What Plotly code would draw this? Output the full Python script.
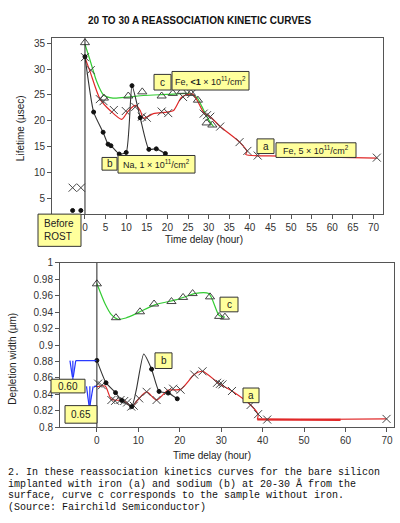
import plotly.graph_objects as go

# ---- top panel: lifetime (usec) vs time delay (hour) ----
# curve c (no iron), triangles + smoothed green fit
c_top_x = [0, 4.6, 10.5, 13.9, 18.6, 21.3, 23.5, 25.7, 27.4, 29.5, 30.9]
c_top_y = [35.1, 24.4, 24.8, 25.6, 24.8, 25.3, 25.7, 25.3, 24.0, 19.6, 19.2]
c_top_fit_x = [0, 1.2, 2.8, 4.5, 6.8, 10.5, 14.2, 19.9, 24.7, 26.0, 27.2, 28.4, 30.0, 31.2]
c_top_fit_y = [34.8, 31.8, 27.7, 25.0, 24.4, 24.6, 24.9, 25.1, 25.3, 25.1, 24.5, 22.7, 20.2, 18.9]

# curve a (Fe 5e11), crosses + red fit
a_top_x = [0, 1.4, 3.6, 4.5, 7.0, 9.9, 12.2, 13.8, 15.0, 18.6, 20.2, 23.8, 25.8,
           28.8, 29.6, 30.4, 32.8, 37.5, 39.4, 41.9, 70.8]
a_top_y = [32.3, 29.8, 24.2, 23.8, 22.1, 21.9, 22.7, 20.8, 20.6, 21.8, 21.5, 24.6, 25.2,
           21.4, 21.1, 20.8, 18.9, 15.9, 14.2, 13.3, 12.9]
a_top_fit_x = [0, 1.2, 3.6, 6.1, 8.9, 10.5, 12.2, 13.4, 14.2, 16.6, 19.9, 21.5, 23.5,
               26.0, 27.2, 28.8, 30.4, 32.8, 37.5, 39.3, 39.0, 47.4, 70.8]
a_top_fit_y = [32.2, 29.6, 24.3, 22.0, 20.3, 21.9, 23.0, 22.0, 20.5, 21.4, 21.7, 22.0, 24.6,
               25.2, 24.0, 21.6, 20.8, 18.9, 15.9, 14.1, 13.5, 13.2, 12.8]

# curve b (Na 1e11), dots
b_top_x = [0, 2.1, 4.4, 5.6, 6.3, 8.3, 10.0, 11.4, 13.4, 15.5, 17.3, 19.5]
b_top_y = [32.4, 21.7, 17.8, 15.5, 15.2, 13.6, 13.9, 26.8, 20.6, 14.5, 14.6, 13.7]

# before ROST
pre_x = [-3, -1]
pre_a_y = [7.1, 7.1]
pre_b_y = [2.7, 2.7]

# ---- bottom panel: depletion width (um) ----
c_bot_x = [0, 4.6, 10.4, 13.8, 18.0, 20.8, 23.1, 27.3, 29.5, 30.9]
c_bot_y = [0.9746, 0.9333, 0.9405, 0.950, 0.953, 0.958, 0.9627, 0.9587, 0.9349, 0.934]
c_bot_fit_x = [0, 2.0, 3.5, 5.1, 7.0, 10.0, 14.0, 19.0, 22.0, 23.5, 27.0, 29.5, 30.9]
c_bot_fit_y = [0.975, 0.950, 0.937, 0.9313, 0.933, 0.9395, 0.949, 0.955, 0.960, 0.9627,
               0.9627, 0.936, 0.934]

b_bot_x = [0, 2.2, 4.5, 6.0, 8.4, 13.2, 15.0, 17.2, 19.4]
b_bot_y = [0.8813, 0.854, 0.842, 0.8325, 0.825, 0.8706, 0.8435, 0.8415, 0.8345]
b_bot_fit_x = [0, 2.2, 4.5, 6.0, 8.4, 9.5, 11.3, 13.2, 15.0, 17.2, 19.4]
b_bot_fit_y = [0.8813, 0.854, 0.842, 0.8325, 0.825, 0.845, 0.889, 0.8706, 0.8435, 0.8415, 0.8345]

a_bot_x = [0.3, 1.2, 3.5, 4.4, 5.7, 6.6, 7.3, 8.3, 8.9, 10.2, 12.0, 14.4, 17.2, 18.4, 20.2,
           23.5, 25.5, 29.0, 29.7, 30.3, 32.6, 37.1, 38.9, 41.1, 69.9]
a_bot_y = [0.853, 0.851, 0.833, 0.832, 0.833, 0.8318, 0.830, 0.825, 0.826, 0.835, 0.843,
           0.833, 0.844, 0.8468, 0.8456, 0.864, 0.868, 0.854, 0.8527, 0.852, 0.844, 0.827,
           0.8158, 0.8092, 0.810]
a_bot_fit_x = [0, 2.0, 3.5, 6.5, 8.4, 10.0, 12.0, 14.4, 17.2, 20.2, 23.5, 25.5, 29.5, 32.6,
               37.1, 38.9, 38.7]
a_bot_fit_y = [0.849, 0.850, 0.834, 0.832, 0.825, 0.834, 0.843, 0.833, 0.845, 0.846, 0.864,
               0.868, 0.853, 0.844, 0.827, 0.815, 0.8095]
a_bot_flat_x = [38.7, 58.8]
a_bot_flat_y = [0.8095, 0.8087]
a_bot_tail_x = [41.1, 69.9]
a_bot_tail_y = [0.809, 0.810]

# blue "0.60" / "0.65" pointers
p60_x = [0, -5.1, None, -6.5, -5.9, None, -5.1, -5.7, None, -5.8, -5.8]
p60_y = [0.881, 0.881, None, 0.881, 0.861, None, 0.881, 0.861, None, 0.881, 0.857]
p65_x = [0, -0.7, None, -2.5, -1.9, None, -0.9, -1.7, None, -1.7, -1.7]
p65_y = [0.8497, 0.8497, None, 0.8497, 0.826, None, 0.8497, 0.826, None, 0.8497, 0.823]

W, H = 400, 523
GREEN = "#33cc33"
RED = "#e02828"
MK = "#444444"

fig = go.Figure()


def line(x, y, color, xa="x", ya="y", width=1.2, shape="spline", smoothing=0.7):
    fig.add_trace(go.Scatter(x=x, y=y, mode="lines", xaxis=xa, yaxis=ya,
                             line=dict(color=color, width=width, shape=shape,
                                       smoothing=smoothing),
                             hoverinfo="skip"))


def marks(x, y, symbol, size, color, xa="x", ya="y"):
    fig.add_trace(go.Scatter(x=x, y=y, mode="markers", xaxis=xa, yaxis=ya,
                             marker=dict(symbol=symbol, size=size, color=color,
                                         line=dict(color=color, width=1))))


# top
line(c_top_fit_x, c_top_fit_y, GREEN)
line(a_top_fit_x, a_top_fit_y, RED)
line(b_top_x, b_top_y, "#333333", width=1.1, smoothing=0.5)
marks(c_top_x, c_top_y, "triangle-up-open", 8, MK)
marks(a_top_x, a_top_y, "x-thin-open", 8, MK)
marks(b_top_x, b_top_y, "circle", 4, "#111111")
marks(pre_x, pre_a_y, "x-thin-open", 8, MK)
marks(pre_x, pre_b_y, "circle", 4, "#111111")

# bottom
line(c_bot_fit_x, c_bot_fit_y, GREEN, "x2", "y2")
line(a_bot_fit_x, a_bot_fit_y, RED, "x2", "y2")
line(a_bot_flat_x, a_bot_flat_y, RED, "x2", "y2", width=2.2, shape="linear")
line(a_bot_tail_x, a_bot_tail_y, RED, "x2", "y2", shape="linear")
line(b_bot_fit_x, b_bot_fit_y, "#333333", "x2", "y2", width=1.1, smoothing=0.5)
marks(c_bot_x, c_bot_y, "triangle-up-open", 8, MK, "x2", "y2")
marks(a_bot_x, a_bot_y, "x-thin-open", 8, MK, "x2", "y2")
marks(b_bot_x, b_bot_y, "circle", 4, "#111111", "x2", "y2")
line(p60_x, p60_y, "#2233ff", "x2", "y2", width=1.2, shape="linear")
line(p65_x, p65_y, "#2233ff", "x2", "y2", width=1.2, shape="linear")

tickfont = dict(family="Liberation Sans, Arial", size=10, color="#333333")
axis_common = dict(showgrid=False, zeroline=False, showline=True, mirror=True,
                   linecolor="#555555", linewidth=1, ticks="outside", ticklen=4,
                   tickcolor="#555555", tickfont=tickfont)

fig.update_layout(
    width=W, height=H, autosize=False,
    margin=dict(l=0, r=0, t=0, b=0),
    paper_bgcolor="white", plot_bgcolor="white",
    showlegend=False,
    xaxis=dict(domain=[52 / W, 383 / W], range=[-8.0, 72.3],
               tickvals=list(range(0, 71, 5)), anchor="y", **axis_common),
    yaxis=dict(domain=[1 - 213 / H, 1 - 33 / H], range=[2.0, 35.95],
               tickvals=[5, 10, 15, 20, 25, 30, 35], anchor="x", **axis_common),
    xaxis2=dict(domain=[60 / W, 394 / W], range=[-8.9, 71.7],
                tickvals=list(range(0, 71, 10)), anchor="y2", **axis_common),
    yaxis2=dict(domain=[1 - 431 / H, 1 - 263 / H], range=[0.8, 1.0],
                tickvals=[0.8, 0.82, 0.84, 0.86, 0.88, 0.9, 0.92, 0.94, 0.96, 0.98, 1.0],
                ticktext=["0.8", "0.82", "0.84", "0.86", "0.88", "0.9", "0.92", "0.94",
                          "0.96", "0.98", "1"],
                anchor="x2", **axis_common),
)

# vertical line at t = 0 in both panels
fig.add_shape(type="line", xref="x", yref="y domain", x0=0, x1=0, y0=0, y1=1,
              line=dict(color="#222222", width=1))
fig.add_shape(type="line", xref="x2", yref="y2 domain", x0=0, x1=0, y0=0, y1=1,
              line=dict(color="#222222", width=1))

lab = dict(family="Liberation Sans, Arial", size=10, color="#222222")
small = dict(family="Liberation Sans, Arial", size=9, color="#222222")


def label(x, y, text, angle=0, font=lab, xanchor="center", align="center"):
    fig.add_annotation(xref="paper", yref="paper", x=x / W, y=1 - y / H, text=text,
                       showarrow=False, textangle=angle, font=font, align=align,
                       xanchor=xanchor, yanchor="middle")


def box(x0, y0, x1, y1, text, font=lab, left=False):
    # yellow callout: rectangle drawn as a shape, text laid on top
    fig.add_shape(type="rect", xref="paper", yref="paper",
                  x0=x0 / W, x1=x1 / W, y0=1 - y1 / H, y1=1 - y0 / H,
                  fillcolor="#ffff9c", line=dict(color="#333333", width=1), layer="above")
    if left:
        label(x0 + 4, (y0 + y1) / 2, text, font=font, xanchor="left", align="left")
    else:
        label((x0 + x1) / 2, (y0 + y1) / 2, text, font=font)


# top panel boxes
box(154, 70, 171, 86, "c")
box(172, 67, 249, 86, "Fe, <b>&lt;1</b> × 10<sup>11</sup>/cm<sup>2</sup>", font=small)
box(102, 155, 117, 168, "b")
box(118, 153, 195, 171, "Na, 1 × 10<sup>11</sup>/cm<sup>2</sup>", font=small)
box(257, 136, 274, 151, "a")
box(276, 140, 356, 155, "Fe, 5 × 10<sup>11</sup>/cm<sup>2</sup>", font=small)
box(38, 213, 81, 246, "Before<br>ROST", left=True)

# bottom panel boxes
box(220, 298, 238, 313, "c")
box(155, 355, 172, 371, "b")
box(243, 391, 259, 406, "a")
box(51, 382, 85, 396, "0.60")
box(65, 409, 97, 427, "0.65")

# titles
label(200, 15, "<b>20 TO 30 A REASSOCIATION KINETIC CURVES</b>",
      font=dict(family="Liberation Sans, Arial", size=10, color="#111111"))
label(20, 125, "Lifetime (µsec)", angle=-90)
label(204, 239, "Time delay (hour)")
label(13, 361, "Depletion width (µm)", angle=-90)
label(212, 460, "Time delay (hour)")

caption = [
    "2. In these reassociation kinetics curves for the bare silicon",
    "implanted with iron (a) and sodium (b) at 20-30 Å from the",
    "surface, curve c corresponds to the sample without iron.",
    "(Source: Fairchild Semiconductor)",
]
cap_font = dict(family="Liberation Mono, DejaVu Sans Mono", size=10, color="#111111")
for i, t in enumerate(caption):
    label(6, 477 + 12 * i, t, font=cap_font, xanchor="left", align="left")

# the page's default body margin would push the figure 8px off the window
fig.write_html("out.html", config={"displayModeBar": False},
               post_script="document.body.style.margin='0';")
